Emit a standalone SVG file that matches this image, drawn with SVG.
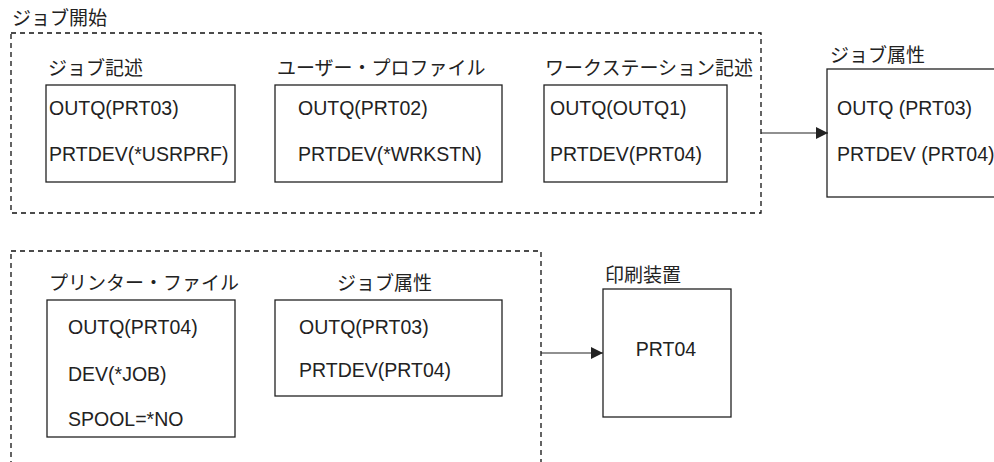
<svg xmlns="http://www.w3.org/2000/svg" width="994" height="462" viewBox="0 0 994 462">
<defs>
<style>
.t{font-family:"Liberation Sans","Noto Sans CJK JP",sans-serif;font-size:19.5px;fill:#222}
.j{font-family:"Liberation Sans","Noto Sans CJK JP",sans-serif;font-size:19px;fill:#222}
.b{fill:#fff;stroke:#222;stroke-width:1.3}
.d{fill:none;stroke:#111;stroke-width:1.3;stroke-dasharray:5,4}
.c{stroke:#222;stroke-width:1.2;fill:none}
</style>
<marker id="ah" viewBox="0 0 12 12" refX="12" refY="6" markerWidth="12" markerHeight="12" markerUnits="userSpaceOnUse" orient="auto">
<path d="M0,0 L12,6 L0,12 Z" fill="#222"/>
</marker>
</defs>
<rect width="994" height="462" fill="#fff"/>
<g id="group-job-start">
<text class="j" x="12" y="25">ジョブ開始</text>
<rect class="d" x="11" y="33" width="750" height="180"/>
</g>
<g id="group-print">
<rect class="d" x="11" y="251" width="530" height="230"/>
</g>
<g id="node-jobd">
<text class="j" x="48" y="75">ジョブ記述</text>
<rect class="b" x="46" y="85" width="189" height="97"/>
<text class="t" x="49" y="115">OUTQ(PRT03)</text>
<text class="t" x="49" y="161">PRTDEV(*USRPRF)</text>
</g>
<g id="node-usrprf">
<text class="j" x="277" y="75">ユーザー・プロファイル</text>
<rect class="b" x="275" y="85" width="227" height="97"/>
<text class="t" x="298" y="115">OUTQ(PRT02)</text>
<text class="t" x="298" y="161">PRTDEV(*WRKSTN)</text>
</g>
<g id="node-wrkstn">
<text class="j" x="545" y="75">ワークステーション記述</text>
<rect class="b" x="544" y="85" width="183" height="97"/>
<text class="t" x="550" y="115">OUTQ(OUTQ1)</text>
<text class="t" x="550" y="161">PRTDEV(PRT04)</text>
</g>
<g id="node-jobattr1">
<text class="j" x="830" y="62">ジョブ属性</text>
<rect class="b" x="827" y="69" width="180" height="128"/>
<text class="t" x="837" y="115">OUTQ (PRT03)</text>
<text class="t" x="837" y="161">PRTDEV (PRT04)</text>
</g>
<g id="node-prtf">
<text class="j" x="49" y="290">プリンター・ファイル</text>
<rect class="b" x="47" y="300" width="188" height="137"/>
<text class="t" x="68" y="334">OUTQ(PRT04)</text>
<text class="t" x="68" y="381">DEV(*JOB)</text>
<text class="t" x="68" y="426">SPOOL=*NO</text>
</g>
<g id="node-jobattr2">
<text class="j" x="337" y="290">ジョブ属性</text>
<rect class="b" x="275" y="300" width="227" height="96"/>
<text class="t" x="299" y="334">OUTQ(PRT03)</text>
<text class="t" x="299" y="377">PRTDEV(PRT04)</text>
</g>
<g id="node-device">
<text class="j" x="605" y="282">印刷装置</text>
<rect class="b" x="603" y="289" width="128" height="128"/>
<text class="t" x="666" y="356" text-anchor="middle">PRT04</text>
</g>
<g id="connectors">
<line class="c" x1="761" y1="133" x2="828" y2="133" marker-end="url(#ah)"/>
<line class="c" x1="541" y1="353" x2="603" y2="353" marker-end="url(#ah)"/>
</g>
</svg>
